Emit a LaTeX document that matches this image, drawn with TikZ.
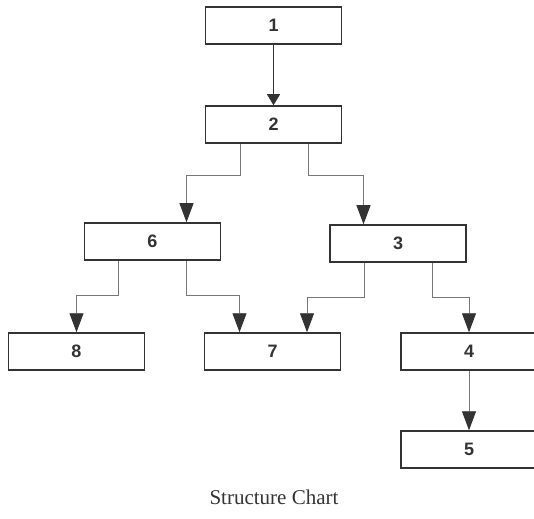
\documentclass[tikz,border=0pt]{standalone}
\usepackage{fontspec}
\setmainfont{Liberation Serif}
\newfontfamily\boxfont{Liberation Sans}
\usetikzlibrary{arrows.meta,calc}
\definecolor{dark}{HTML}{333333}
\definecolor{linegray}{HTML}{777777}
\begin{document}
\begin{tikzpicture}[x=1pt,y=-1pt,
  box/.style={draw=dark,line width=1.5pt,minimum width=136pt,minimum height=37pt,inner sep=0pt,
    font=\boxfont\bfseries\fontsize{18}{21}\selectfont,text=dark},
  conn/.style={draw=linegray,line width=0.9pt,-{Triangle[length=19pt,width=14pt,fill=dark,color=dark]}},
  shortconn/.style={draw=dark,line width=0.9pt,-{Triangle[length=11pt,width=13pt,fill=dark,color=dark]}}]
\useasboundingbox (0,0) rectangle (534,518);
\node[box] (b1) at (273.5,25.5) {1};
\node[box] (b2) at (273.5,124.5) {2};
\node[box] (b6) at (152.5,241.5) {6};
\node[box] (b3) at (398,243.5) {3};
\node[box] (b8) at (76.5,351.5) {8};
\node[box] (b7) at (272.5,351.5) {7};
\node[box] (b4) at (469,351.5) {4};
\node[box] (b5) at (469,449.5) {5};
\draw[shortconn] (b1) -- (b2);
\draw[conn] ($(b2.south)+(-33,0)$) -- ++(0,32) -| ($(b6.north)+(34,0)$);
\draw[conn] ($(b2.south)+(35,0)$) -- ++(0,32) -| ($(b3.north)+(-34.5,0)$);
\draw[conn] ($(b6.south)+(-34,0)$) -- ++(0,35) -| (b8.north);
\draw[conn] ($(b6.south)+(34,0)$) -- ++(0,35) -| ($(b7.north)+(-33,0)$);
\draw[conn] ($(b3.south)+(-34,0)$) -- ++(0,35) -| ($(b7.north)+(34.5,0)$);
\draw[conn] ($(b3.south)+(34,0)$) -- ++(0,35) -| (b4.north);
\draw[conn] (b4) -- (b5);
\node[font=\fontsize{21}{24}\selectfont,text=dark] (cap) at (274,497) {Structure Chart};
\end{tikzpicture}
\end{document}
